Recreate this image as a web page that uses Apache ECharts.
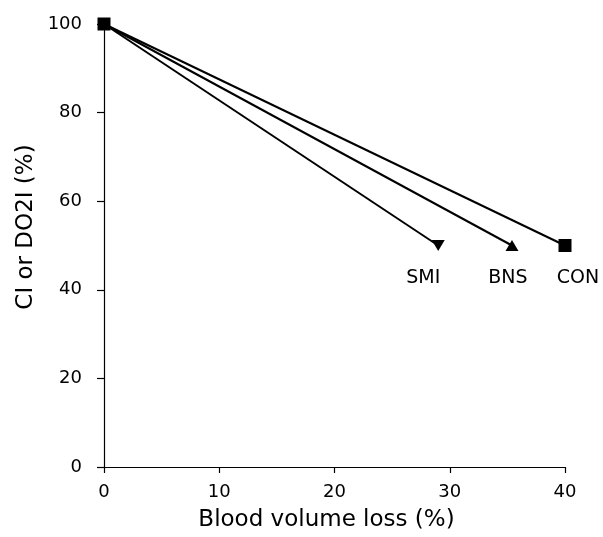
<!DOCTYPE html>
<html>
<head>
<meta charset="utf-8">
<script src="https://cdn.jsdelivr.net/npm/echarts@6/dist/echarts.min.js"></script>
<style>html,body{margin:0;padding:0;background:#fff;}#c{width:603px;height:537px;}</style>
</head>
<body>
<div id="c"></div>
<script>
const groups = ['SMI', 'BNS', 'CON'];
const startX = [0, 0, 0];
const startY = [100, 100, 100];
const endX = [29, 35.4, 40];
const endY = [50, 50, 50];
const symbols = ['triangle', 'triangle', 'rect'];
const symbolRotations = [180, 0, 0];
const labelOffsets = [[-15, 33], [-4, 33], [13, 33]];
const xTicks = [0, 10, 20, 30, 40];
const yTicks = [0, 20, 40, 60, 80, 100];

const FONT = 'DejaVu Sans, sans-serif';
const chart = echarts.init(document.getElementById('c'));

const series = groups.map((g, i) => ({
  type: 'line',
  name: g,
  z: 2 + i,
  lineStyle: { color: '#000', width: 2 },
  itemStyle: { color: '#000' },
  data: [
    { value: [startX[i], startY[i]], symbol: i === 2 ? 'rect' : 'none', symbolSize: 13 },
    {
      value: [endX[i], endY[i]],
      symbol: symbols[i],
      symbolRotate: symbolRotations[i],
      symbolSize: symbols[i] === 'rect' ? 13 : [13, 11],
      label: {
        show: true,
        formatter: g,
        position: 'inside',
        offset: labelOffsets[i],
        color: '#000',
        fontFamily: FONT,
        fontSize: 19
      }
    }
  ],
  animation: false
}));

chart.setOption({
  animation: false,
  backgroundColor: '#fff',
  grid: { left: 104, right: 38, top: 24, bottom: 69 },
  xAxis: {
    type: 'value', min: xTicks[0], max: xTicks[xTicks.length - 1], interval: 10,
    name: 'Blood volume loss (%)', nameLocation: 'middle', nameGap: 42,
    nameTextStyle: { color: '#000', fontFamily: FONT, fontSize: 23, padding: [0, 16, 0, 0] },
    axisLine: { lineStyle: { color: '#000', width: 1.2 } },
    axisTick: { length: 6, lineStyle: { color: '#000', width: 1.2 } },
    axisLabel: { color: '#000', fontFamily: FONT, fontSize: 18, margin: 16 },
    splitLine: { show: false }
  },
  yAxis: {
    type: 'value', min: yTicks[0], max: yTicks[yTicks.length - 1], interval: 20,
    axisLine: { lineStyle: { color: '#000', width: 1.2 } },
    axisTick: { length: 7, lineStyle: { color: '#000', width: 1.2 } },
    axisLabel: { color: '#000', fontFamily: FONT, fontSize: 18, margin: 22 },
    splitLine: { show: false }
  },
  graphic: [{
    type: 'text',
    x: 26, y: 227,
    rotation: Math.PI / 2,
    style: {
      text: 'CI or DO2I (%)',
      fill: '#000',
      font: '23px DejaVu Sans, sans-serif',
      textAlign: 'center',
      textVerticalAlign: 'middle'
    }
  }],
  series: series
});
</script>
</body>
</html>
